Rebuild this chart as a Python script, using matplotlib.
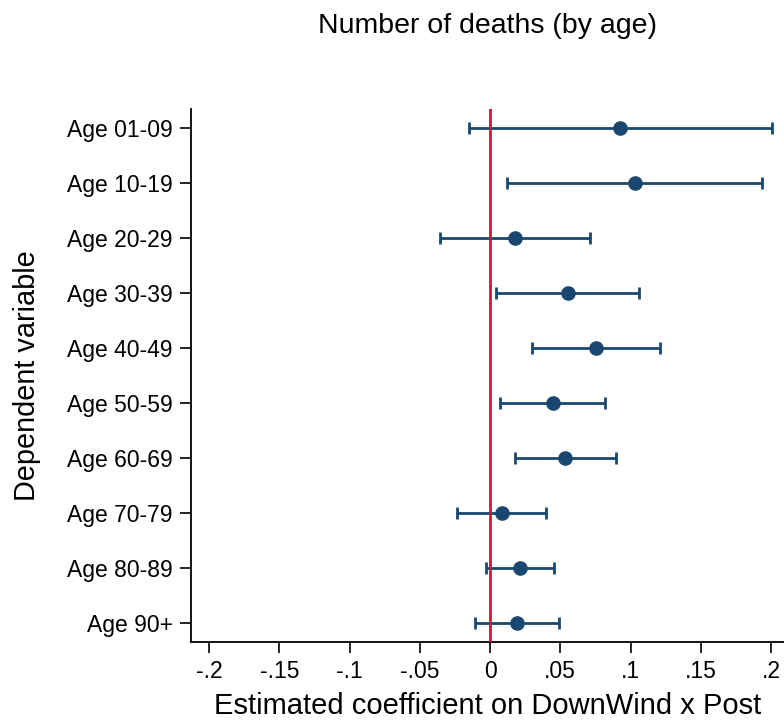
import matplotlib
matplotlib.use("Agg")
from matplotlib import pyplot as plt

# estimates
labels = ["Age 01-09", "Age 10-19", "Age 20-29", "Age 30-39", "Age 40-49",
          "Age 50-59", "Age 60-69", "Age 70-79", "Age 80-89", "Age 90+"]
coef = [0.0925, 0.103, 0.0175, 0.0553, 0.0757, 0.0446, 0.0534, 0.0083, 0.0214, 0.0192]
lower = [-0.0147, 0.0123, -0.0358, 0.0045, 0.0301, 0.0073, 0.0175, -0.0235, -0.0028, -0.0107]
upper = [0.2007, 0.1938, 0.0710, 0.1063, 0.1210, 0.0819, 0.0894, 0.0401, 0.0453, 0.0491]

xticks = [-0.2, -0.15, -0.1, -0.05, 0, 0.05, 0.1, 0.15, 0.2]
xticklabels = ["-.2", "-.15", "-.1", "-.05", "0", ".05", ".1", ".15", ".2"]

plt.rcParams['font.family'] = ['Liberation Sans', 'DejaVu Sans']

fig = plt.figure(figsize=(7.84, 7.22), dpi=100)
ax = fig.add_axes([0.2436, 0.1112, 0.7564, 0.7374])

ypos = list(range(1, len(labels) + 1))
err = [[c - l for c, l in zip(coef, lower)], [u - c for c, u in zip(coef, upper)]]

navy = "#1a476f"
ax.errorbar(coef, ypos, xerr=err, fmt='o', color=navy, ecolor=navy,
            markersize=9.5, elinewidth=2.0, capsize=4, capthick=2.0, zorder=2)

ax.axvline(0, color="#d6113d", linewidth=2.0, zorder=3)

ax.set_xlim(-0.2130, 0.2093)
ax.set_ylim(10.335, 0.655)
ax.set_yticks(ypos)
ax.set_yticklabels(labels, fontsize=16.5)
ax.set_xticks(xticks)
ax.set_xticklabels(xticklabels, fontsize=16.5)

for s in ["top", "right"]:
    ax.spines[s].set_visible(False)
for s in ["left", "bottom"]:
    ax.spines[s].set_linewidth(1.3)
ax.tick_params(axis='both', length=8, width=1.2, direction='out', pad=5)

ax.set_xlabel("Estimated coefficient on DownWind x Post", fontsize=21, labelpad=7)
ax.set_ylabel("Dependent variable", fontsize=20.8, labelpad=19)
ax.set_title("Number of deaths (by age)", fontsize=20.5, pad=55)

fig.savefig("out.png", dpi=100)
